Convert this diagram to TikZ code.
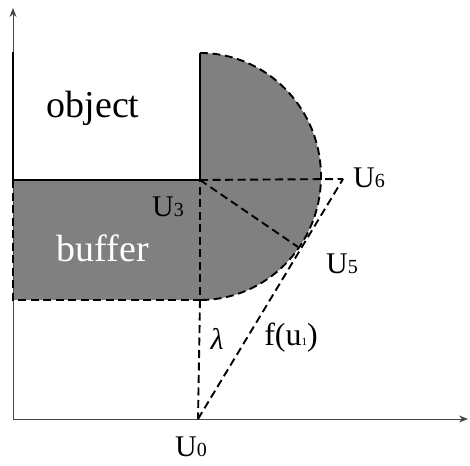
\documentclass[tikz,border=0pt]{standalone}
\usepackage{fontspec}
\setmainfont{Liberation Serif}
\usetikzlibrary{arrows.meta}
\definecolor{fillgray}{RGB}{128,128,128}
\definecolor{axisgray}{RGB}{70,70,70}
\tikzset{
  axisline/.style={draw=axisgray, line width=1pt, -{Stealth[length=9pt,width=7pt]}},
  solidedge/.style={draw=black, line width=2pt},
  dashedge/.style={draw=black, line width=1.9pt, dash pattern=on 8pt off 4.5pt},
  lbl/.style={inner sep=0pt, font=\fontsize{30}{30}\selectfont},
  big/.style={inner sep=0pt, font=\fontsize{38}{38}\selectfont},
}
\newcommand{\sm}[1]{{\fontsize{20}{20}\selectfont #1}}
\begin{document}
\begin{tikzpicture}[x=1pt,y=-1pt]
\useasboundingbox (0,0) rectangle (470,465);
% coordinates
\coordinate (O) at (13,419);
\coordinate (ytop) at (13,8);
\coordinate (xend) at (468,419);
\coordinate (objTL) at (13,52);
\coordinate (objTR) at (200,53);
\coordinate (C) at (200,180);
\coordinate (bufTL) at (13,180);
\coordinate (bufBL) at (13,300);
\coordinate (bufBR) at (200,300);
\coordinate (U0) at (198,419);
\coordinate (U5) at (298,247);
\coordinate (U6) at (343,179);
% fills
\fill[fillgray] (bufTL) rectangle (bufBR);
\fill[fillgray] (objTR) arc[start angle=90, end angle=-90, x radius=121, y radius=-123.5] -- cycle;
% axes
\draw[axisline] (O) -- (ytop);
\draw[axisline] (O) -- (xend);
% object edges
\draw[solidedge] (objTL) -- (bufTL) -- (C) -- (objTR);
% buffer dashed edges
\draw[dashedge] (bufTL) -- (bufBL) -- (bufBR) -- (C);
% half-circle outline
\draw[dashedge] (objTR) arc[start angle=90, end angle=-90, x radius=121, y radius=-123.5];
% construction lines
\draw[dashedge] (C) -- (U6);
\draw[dashedge] (C) -- (U5);
\draw[dashedge] (bufBR) -- (U0);
\draw[dashedge] (U0) -- (U6);
% labels
\node[big] (tobj) at (93,108) {object};
\node[big, text=white] (tbuf) at (103,248) {buffer};
\node[lbl] (tU3) at (168,207) {U\sm{3}};
\node[lbl] (tU6) at (369,178) {U\sm{6}};
\node[lbl] (tU5) at (342,264) {U\sm{5}};
\node[lbl] (tU0) at (191,447) {U\sm{0}};
\node[lbl] (tlam) at (217,339) {\itshape λ};
\node[lbl, font=\fontsize{32}{32}\selectfont] (tf) at (291,338) {f(u{\fontsize{11}{11}\selectfont 1})};
\end{tikzpicture}
\end{document}
